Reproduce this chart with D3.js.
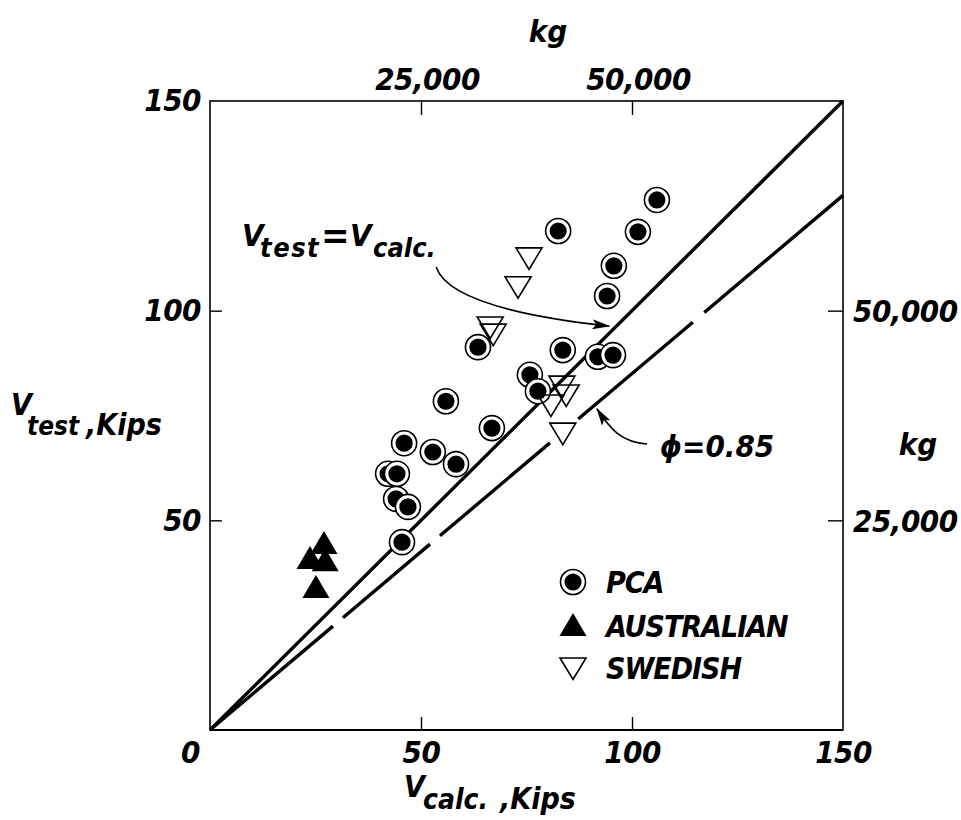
<!DOCTYPE html>
<html lang="en">
<head>
  <meta charset="utf-8">
  <title>Vtest vs Vcalc</title>
  <style>
    html,body{margin:0;background:#fff}
    svg{display:block}
    text{font-family:'DejaVu Sans Condensed','DejaVu Sans',sans-serif;font-stretch:condensed;font-weight:bold;font-style:italic;fill:#000}
    .frame{fill:none;stroke:#000;stroke-width:1.6}
    .tick line{stroke:#000;stroke-width:1.4}
    .tick text{font-size:31px;letter-spacing:-0.5px}
    .diag{fill:none;stroke:#000;stroke-width:3.4}
    .arrow{fill:none;stroke:#000;stroke-width:1.6}
  </style>
  <script src="https://d3js.org/d3.v7.min.js"></script>
</head>
<body>
<svg width="961" height="820"></svg>
<script>
  // PCA tests (Vcalc, Vtest in kips)
  const pcaCalc=[105.9,82.5,101.4,95.7,94.1,63.5,83.6,91.9,95.5,75.8,77.7,55.9,66.8,46.0,52.8,58.3,42.2,44.3,44.1,46.9,45.5];
  const pcaTest=[126.4,119.0,118.8,110.7,103.5,91.3,90.6,89.0,89.4,84.7,80.8,78.4,72.0,68.4,66.3,63.4,61.1,61.1,55.1,53.2,44.8];
  // Australian tests
  const ausCalc=[27.0,23.7,27.3,25.1];
  const ausTest=[44.6,41.0,40.5,34.1];
  // Swedish tests
  const sweCalc=[75.6,73.0,66.4,67.1,83.4,84.4,80.8,83.6];
  const sweTest=[112.6,105.7,96.1,94.4,82.0,79.9,77.5,70.8];

  const kipTicks=[50,100,150];
  const kgTicks=[25000,50000];
  const phi=0.85;

  const svg=d3.select('svg');
  const x=d3.scaleLinear().domain([0,150]).range([210,843]);
  const y=d3.scaleLinear().domain([0,150]).range([730,101]);
  const xKg=d3.scaleLinear().domain([0,75000]).range([210,843]);
  const yKg=d3.scaleLinear().domain([0,75000]).range([730,101]);

  const defs=svg.append('defs');
  defs.append('marker').attr('id','arr').attr('viewBox','0 0 18 10')
    .attr('refX',17).attr('refY',5).attr('markerWidth',18).attr('markerHeight',10)
    .attr('markerUnits','userSpaceOnUse').attr('orient','auto')
    .append('path').attr('d','M0,0L18,5L0,10L4,5Z').attr('fill','#000');

  // axes (ticks inward)
  const gB=svg.append('g').attr('transform','translate(0,730)')
    .call(d3.axisBottom(x).tickValues([0,50,100,150]).tickSizeInner(-13).tickSizeOuter(0).tickPadding(11));
  const gL=svg.append('g').attr('transform','translate(210,0)')
    .call(d3.axisLeft(y).tickValues(kipTicks).tickSizeInner(-12).tickSizeOuter(0).tickPadding(9));
  const gT=svg.append('g').attr('transform','translate(0,101)')
    .call(d3.axisTop(xKg).tickValues(kgTicks).tickSizeInner(-14).tickSizeOuter(0).tickPadding(11).tickFormat(d3.format(',')));
  const gR=svg.append('g').attr('transform','translate(843,0)')
    .call(d3.axisRight(yKg).tickValues(kgTicks).tickSizeInner(-15).tickSizeOuter(0).tickPadding(10).tickFormat(d3.format(',')));
  [gB,gL,gT,gR].forEach(g=>{g.select('.domain').remove();g.attr('font-family',null).attr('font-size',null)});
  gB.selectAll('.tick').filter(d=>d===0||d===150).select('line').remove();
  gB.selectAll('.tick').filter(d=>d===0).select('text').attr('dx',-20);
  gL.selectAll('.tick').filter(d=>d===150).select('line').remove();
  gT.selectAll('.tick text').attr('dx',6);
  gR.selectAll('.tick text').attr('dy','0.36em');

  svg.append('rect').attr('class','frame')
    .attr('x',x(0)).attr('y',y(150)).attr('width',x(150)-x(0)).attr('height',y(0)-y(150));
  svg.append('line').attr('x1',x(0)).attr('x2',x(150)).attr('y1',y(0)).attr('y2',y(0))
    .attr('stroke','#000').attr('stroke-width',2.2);

  // unit labels
  svg.append('text').attr('x',548).attr('y',42).attr('font-size',31).attr('text-anchor','middle').text('kg');
  svg.append('text').attr('x',918).attr('y',455).attr('font-size',31).attr('text-anchor','middle').text('kg');

  const yt=svg.append('text').attr('y',435).attr('font-size',30);
  yt.append('tspan').attr('x',11).attr('dy',-20).text('V');
  yt.append('tspan').attr('x',27).attr('dy',20).attr('font-size',26).text('test');
  yt.append('tspan').attr('x',86).text(',Kips');

  const xt=svg.append('text').attr('y',809).attr('font-size',30);
  xt.append('tspan').attr('x',404).attr('dy',-12).text('V');
  xt.append('tspan').attr('x',423).attr('dy',12).attr('font-size',28).text('calc.');
  xt.append('tspan').attr('x',500).text(',Kips');

  // reference lines
  svg.append('line').attr('class','diag')
    .attr('x1',x(0)).attr('y1',y(0)).attr('x2',x(150)).attr('y2',y(150));
  svg.append('line').attr('class','diag')
    .attr('x1',x(0)).attr('y1',y(0)).attr('x2',x(150)).attr('y2',y(150*phi))
    .attr('stroke-dasharray','161,13,114,13,144,37,150,15,400');

  // annotations
  const ax=x(7.6), ay=y(115.4);
  const a1=svg.append('text').attr('y',ay).attr('font-size',31);
  a1.append('tspan').attr('x',ax).text('V');
  a1.append('tspan').attr('x',ax+18).attr('dy',11).attr('font-size',27).attr('letter-spacing',1.5).text('test');
  a1.append('tspan').attr('x',ax+79).attr('dy',-9).attr('font-size',38).text('=');
  a1.append('tspan').attr('x',ax+108).attr('dy',-2).text('V');
  a1.append('tspan').attr('x',ax+131).attr('dy',11).attr('font-size',27).text('calc.');

  const path=d3.path();
  path.moveTo(x(53.6),y(110.4));
  path.bezierCurveTo(x(56.0),y(103.0),x(72.0),y(98.8),x(94.6),y(96.3));
  svg.append('path').attr('class','arrow').attr('d',path.toString()).attr('marker-end','url(#arr)');

  svg.append('text').attr('x',x(106.6)).attr('y',y(65.1)).attr('font-size',31).text('ϕ=0.85');
  const p2=d3.path();
  p2.moveTo(x(103.6),y(68.2));
  p2.bezierCurveTo(x(97.5),y(68.6),x(94.8),y(71.8),x(91.7),y(76.6));
  svg.append('path').attr('class','arrow').attr('d',p2.toString()).attr('marker-end','url(#arr)');

  // markers
  function ringDot(g,cx,cy){
    g.append('circle').attr('cx',cx).attr('cy',cy).attr('r',12.5).attr('fill','#fff').attr('stroke','#000').attr('stroke-width',1.6);
    g.append('circle').attr('cx',cx).attr('cy',cy).attr('r',8.6).attr('fill','#000');
  }
  const upTri=(cx,cy)=>`M${cx},${cy-12}L${cx+13.5},${cy+11}L${cx-13.5},${cy+11}Z`;
  const downTri=(cx,cy)=>`M${cx-13},${cy-10}L${cx+13},${cy-10}L${cx},${cy+11.5}Z`;

  const gP=svg.append('g');
  pcaCalc.forEach((v,i)=>ringDot(gP,x(v),y(pcaTest[i])));
  svg.append('g').selectAll('path').data(ausCalc).join('path')
    .attr('d',(d,i)=>upTri(x(d),y(ausTest[i]))).attr('fill','#000');
  svg.append('g').selectAll('path').data(sweCalc).join('path')
    .attr('d',(d,i)=>downTri(x(d),y(sweTest[i])))
    .attr('fill','none').attr('stroke','#000').attr('stroke-width',1.6);

  // legend
  const lg=svg.append('g');
  ringDot(lg,573,582);
  lg.append('path').attr('d',upTri(573,625)).attr('fill','#000');
  lg.append('path').attr('d',downTri(573,668)).attr('fill','none').attr('stroke','#000').attr('stroke-width',1.6);
  [['PCA',593],['AUSTRALIAN',637],['SWEDISH',679]].forEach(([t,by])=>
    lg.append('text').attr('x',606).attr('y',by).attr('font-size',30).attr('letter-spacing',-1).text(t));
</script>
</body>
</html>
